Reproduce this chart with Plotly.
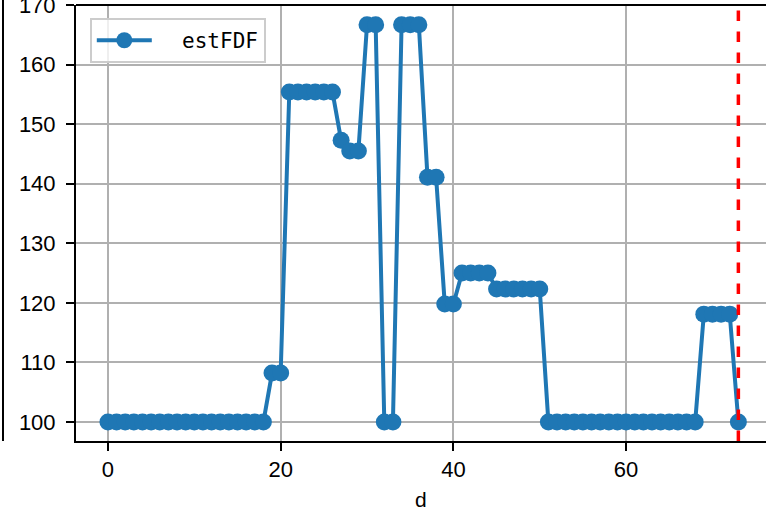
import plotly.graph_objects as go

d = list(range(74))
est_fdf = ([100.0] * 19 + [108.2] * 2 + [155.4] * 6 + [147.3] + [145.5] * 2 +
           [166.7] * 2 + [100.0] * 2 + [166.7] * 3 + [141.1] * 2 + [119.8] * 2 +
           [125.0] * 4 + [122.3] * 6 + [100.0] * 18 + [118.1] * 4 + [100.0])
vline_x = 73
x_ticks = [0, 20, 40, 60]
y_ticks = [100, 110, 120, 130, 140, 150, 160, 170]

BLUE = "#1f77b4"
TICKFONT = "Liberation Sans"
LEGFONT = "DejaVu Sans Mono"

fig = go.Figure()
fig.add_trace(go.Scatter(
    x=d, y=est_fdf, mode="lines+markers", name="\u00a0\u00a0estFDF",
    line=dict(color=BLUE, width=4),
    marker=dict(color=BLUE, size=17),
))
fig.add_vline(x=vline_x, line=dict(color="red", width=3.5, dash="dash"))

# top spine
fig.add_shape(type="line", xref="paper", yref="paper", x0=0, x1=1, y0=1, y1=1,
              line=dict(color="black", width=2))
# neighbouring panel spine on far left
fig.add_shape(type="line", xref="paper", yref="paper", x0=-0.1058, x1=-0.1058,
              y0=0, y1=1.012, line=dict(color="black", width=2))

fig.add_annotation(text="d", xref="paper", yref="paper", x=0.5, y=-0.135,
                   showarrow=False, xanchor="center", yanchor="middle",
                   font=dict(family=TICKFONT, size=21, color="black"))

fig.update_layout(
    width=766, height=512,
    margin=dict(l=76, r=0, t=5, b=71),
    paper_bgcolor="white", plot_bgcolor="white",
    font=dict(family=TICKFONT, size=22, color="black"),
    showlegend=True,
    legend=dict(x=0.02, y=0.97, xanchor="left", yanchor="top",
                bgcolor="rgba(255,255,255,0.8)", bordercolor="#cccccc", borderwidth=2,
                font=dict(family=LEGFONT, size=21), itemwidth=55),
    xaxis=dict(range=[-3.7, 76.2], tickvals=x_ticks, showgrid=True, gridcolor="#b0b0b0",
               gridwidth=2, zeroline=False, showline=True, linecolor="black", linewidth=2,
               ticks="outside", ticklen=8, tickwidth=2, tickcolor="black", automargin=False,
               tickfont=dict(family=TICKFONT, size=22)),
    yaxis=dict(range=[96.8, 170], tickvals=y_ticks, showgrid=True, gridcolor="#b0b0b0",
               gridwidth=2, zeroline=False, showline=True, linecolor="black", linewidth=2,
               ticks="outside", ticklen=8, tickwidth=2, tickcolor="black", automargin=False,
               tickfont=dict(family=TICKFONT, size=22), ticklabelstandoff=6,
               ticklabeloverflow="allow"),
)

fig.write_html("out.html", config={"displayModeBar": False},
               post_script="document.body.style.margin='0';document.body.style.overflow='hidden';")
